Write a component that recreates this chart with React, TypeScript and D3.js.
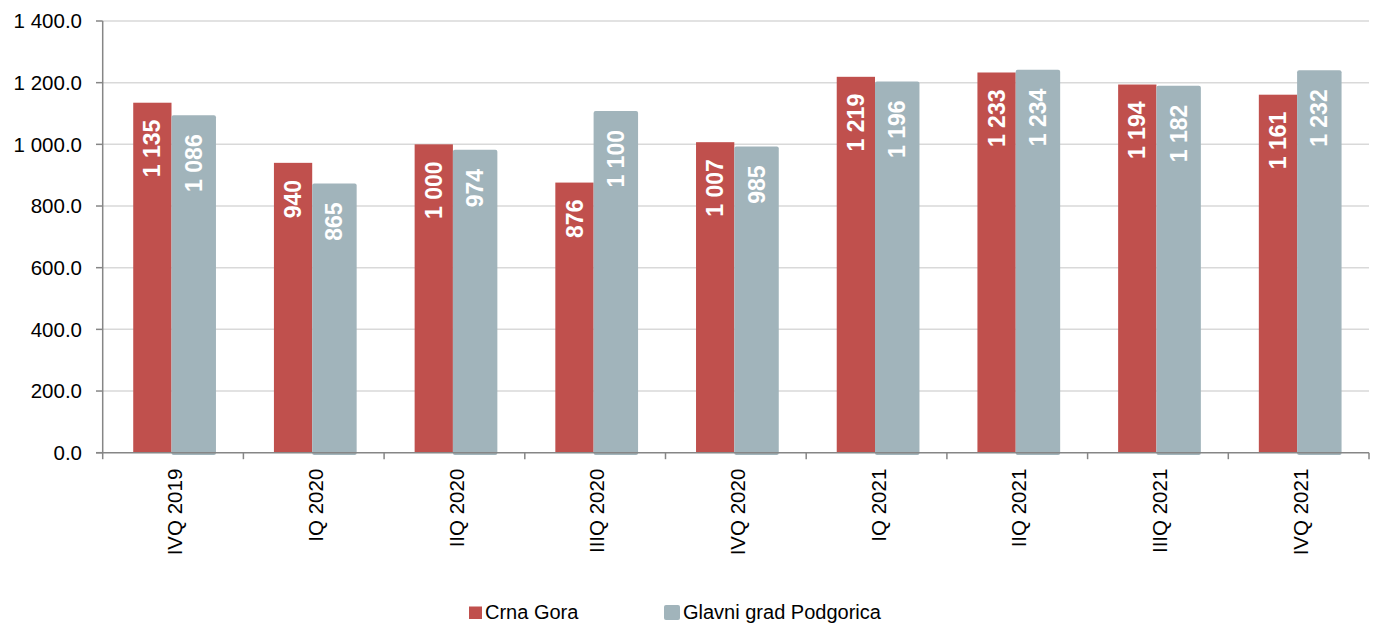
import React from 'react';
import * as d3 from 'd3';

const categories = ['IVQ 2019', 'IQ 2020', 'IIQ 2020', 'IIIQ 2020', 'IVQ 2020', 'IQ 2021', 'IIQ 2021', 'IIIQ 2021', 'IVQ 2021'];
const crnaGora = [1135, 940, 1000, 876, 1007, 1219, 1233, 1194, 1161];
const podgorica = [1086, 865, 974, 1100, 985, 1196, 1234, 1182, 1232];
const yTicks = [0, 200, 400, 600, 800, 1000, 1200, 1400];
const seriesNames = ['Crna Gora', 'Glavni grad Podgorica'];

const RED = '#c0504d';
const GREY = '#a1b4bb';
const FONT = 'Arial, "Liberation Sans", sans-serif';

const locale = d3.formatLocale({ decimal: '.', thousands: ' ', grouping: [3], currency: ['', ''] });
const fmtTick = locale.format(',.1f');
const fmtVal = locale.format(',d');

const W = 1375;
const H = 623;

export default function App() {
  const left = 102.7;
  const right = 1369;
  const top = 21;
  const bottom = 452.7;

  const x = d3.scaleBand<string>().domain(categories).range([left, right]).padding(0);
  const y = d3.scaleLinear().domain([0, 1400]).range([bottom, top]);
  const bw = x.bandwidth();
  const redOff = bw * 0.217;
  const redW = bw * 0.272;
  const greyW = bw * 0.316;

  return (
    <div style={{ position: 'absolute', left: 0, top: 0 }}>
      <svg width={W} height={H} style={{ display: 'block', background: '#fff' }}>
        {/* grid */}
        {yTicks.filter(t => t > 0).map(t => (
          <line key={t} x1={left} x2={right} y1={y(t)} y2={y(t)} stroke="#d9d9d9" strokeWidth={1.5} />
        ))}

        {/* bars */}
        {categories.map((c, i) => {
          const x0 = x(c)!;
          const rx = x0 + redOff;
          const gx = rx + redW;
          const ry = y(crnaGora[i]);
          const gy = y(podgorica[i]) - 2.5;
          return (
            <g key={c}>
              <rect x={rx} y={ry} width={redW} height={bottom - ry} fill={RED} />
              <rect x={gx} y={gy} width={greyW} height={bottom + 2.3 - gy} fill={GREY} rx={2} ry={2} />
              <text
                transform={`translate(${rx + redW / 2},${ry + 17}) rotate(-90)`}
                textAnchor="end"
                dy="0.35em"
                fill="#fff"
                fontWeight="bold"
                fontSize={23}
                fontFamily={FONT}
              >{fmtVal(crnaGora[i])}</text>
              <text
                transform={`translate(${gx + greyW / 2},${gy + 19}) rotate(-90)`}
                textAnchor="end"
                dy="0.35em"
                fill="#fff"
                fontWeight="bold"
                fontSize={23}
                fontFamily={FONT}
              >{fmtVal(podgorica[i])}</text>
            </g>
          );
        })}

        {/* y axis */}
        <line x1={left} x2={left} y1={top} y2={bottom} stroke="#868686" strokeWidth={1.5} />
        {yTicks.map(t => (
          <g key={t}>
            <line x1={left - 6.7} x2={left} y1={y(t)} y2={y(t)} stroke="#868686" strokeWidth={1.5} />
            <text x={82} y={y(t)} dy="0.35em" textAnchor="end" fontSize={20.5} fontFamily={FONT} fill="#000">
              {fmtTick(t)}
            </text>
          </g>
        ))}

        {/* x axis */}
        <line x1={left - 6.7} x2={right} y1={bottom} y2={bottom} stroke="#868686" strokeWidth={1.5} />
        {[...categories.map(c => x(c)!), right].map((tx, i) => (
          <line key={i} x1={tx} x2={tx} y1={bottom} y2={bottom + 6.5} stroke="#868686" strokeWidth={1.5} />
        ))}
        {categories.map(c => (
          <text
            key={c}
            transform={`translate(${x(c)! + bw / 2 + 2},${bottom + 16}) rotate(-90)`}
            textAnchor="end"
            dy="0.35em"
            fontSize={20.5}
            fontFamily={FONT}
            fill="#000"
          >{c}</text>
        ))}

        {/* legend */}
        <rect x={469} y={606.5} width={13} height={12.5} fill={RED} />
        <text x={485} y={618.5} fontSize={20} fontFamily={FONT} fill="#000">{seriesNames[0]}</text>
        <rect x={664} y={605} width={16} height={15} fill={GREY} rx={2} ry={2} />
        <text x={683} y={618.5} fontSize={20} fontFamily={FONT} fill="#000">{seriesNames[1]}</text>
      </svg>
    </div>
  );
}
